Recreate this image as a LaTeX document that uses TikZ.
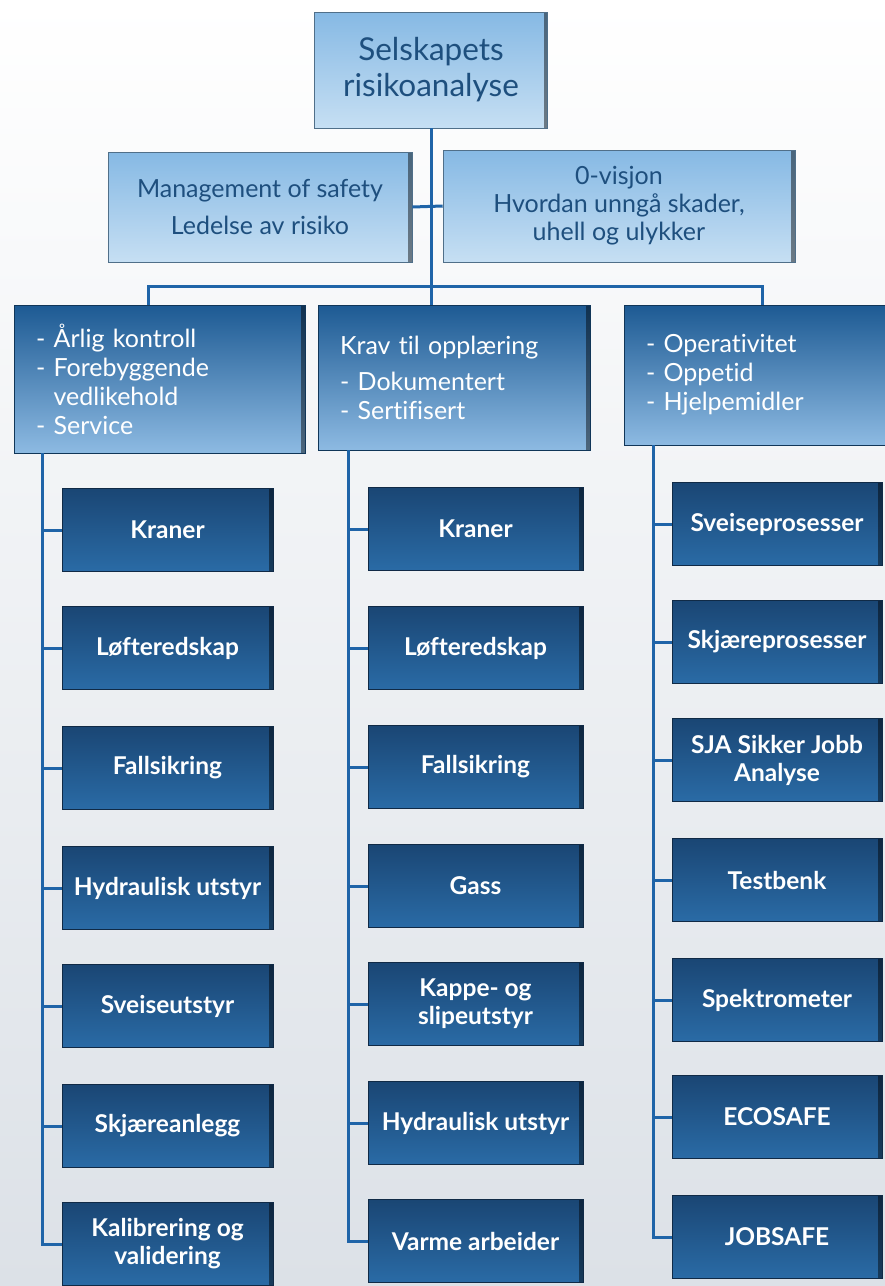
\documentclass[tikz,border=0pt]{standalone}
\usepackage{fontspec}
\setmainfont{Lato}[Ligatures=NoCommon]
\usetikzlibrary{positioning}

\definecolor{linkblue}{HTML}{1F64A8}
\definecolor{lighttop}{HTML}{86B9E4}
\definecolor{lightbot}{HTML}{C6DFF3}
\definecolor{lighttext}{HTML}{1E4F7E}
\definecolor{headtop}{HTML}{1D5A93}
\definecolor{headbot}{HTML}{8DBAE2}
\definecolor{itemtop}{HTML}{1A4674}
\definecolor{itembot}{HTML}{2A6BA6}
\definecolor{seagray}{HTML}{DCE1E7}

\tikzset{
  bevel/.style={path picture={\fill[black,opacity=.45] ([xshift=-4pt]path picture bounding box.north east) rectangle (path picture bounding box.south east);}},
  lightbox/.style={bevel, draw=lighttop!60!black, line width=.6pt, top color=lighttop, bottom color=lightbot,
    text=lighttext, align=center, font=\fontsize{25}{28}\selectfont},
  headbox/.style={bevel, draw=headtop!60!black, line width=.6pt, top color=headtop, bottom color=headbot,
    text=white, align=left, inner xsep=22pt, font=\fontsize{25}{29}\selectfont},
  itembox/.style={bevel, draw=itemtop!60!black, line width=.6pt, top color=itemtop, bottom color=itembot,
    text=white, align=center, minimum height=83pt, font=\fontsize{24.5}{28}\selectfont\bfseries},
  link/.style={draw=linkblue, line width=3pt}
}

\begin{document}
\begin{tikzpicture}[x=1pt,y=-1pt]
  % background
  \useasboundingbox (0,0) rectangle (885,1286);
  \shade[top color=white, middle color=white, bottom color=seagray] (0,0) rectangle (885,1286);

  % top part
  \node[lightbox, minimum width=233pt, minimum height=116pt, font=\fontsize{31.5}{36}\selectfont] (top) at (431,70) {Selskapets\\risikoanalyse};
  \node[lightbox, minimum width=304pt, minimum height=110pt] (mgmt) at (260,207) {Management of safety\\[9pt]Ledelse av risiko};
  \node[lightbox, minimum width=352pt, minimum height=112pt] (vision) at (619,206) {0-visjon\\Hvordan unngå skader,\\uhell og ulykker};

  % column heads
  \node[headbox, minimum width=291pt, minimum height=148pt, text width=247pt] (lhead) at (159.5,379) {- Årlig kontroll\\- Forebyggende\\\phantom{- }vedlikehold\\- Service};
  \node[headbox, minimum width=272pt, minimum height=145pt, text width=228pt] (mhead) at (454,377.5) {Krav til opplæring\\[7pt]- Dokumentert\\- Sertifisert};
  \node[headbox, minimum width=271pt, minimum height=140pt, text width=227pt] (rhead) at (759.5,375) {- Operativitet\\- Oppetid\\- Hjelpemidler};

  % items
  \foreach \y/\t [count=\i] in {530/Kraner, 648/Løfteredskap, 768/Fallsikring, 888/Hydraulisk utstyr,
      1006/Sveiseutstyr, 1126/Skjæreanlegg, 1244/{Kalibrering og\\validering}}
    \node[itembox, minimum width=211pt] (l\i) at (167.5,\y) {\t};
  \foreach \y/\t [count=\i] in {529/Kraner, 648/Løfteredskap, 767/Fallsikring, 886/Gass,
      1004/{Kappe- og\\slipeutstyr}, 1123/Hydraulisk utstyr, 1241/Varme arbeider}
    \node[itembox, minimum width=215pt] (m\i) at (475.5,\y) {\t};
  \foreach \y/\t [count=\i] in {524/Sveiseprosesser, 642/Skjæreprosesser, 760/{SJA Sikker Jobb\\Analyse}, 880/Testbenk,
      1000/Spektrometer, 1117/ECOSAFE, 1237/JOBSAFE}
    \node[itembox, minimum width=210pt] (r\i) at (777,\y) {\t};

  % connectors
  \coordinate (bar) at (431,286);
  \coordinate (lbar) at (148,286);
  \coordinate (rbar) at (762,286);
  \draw[link] (top) -- (bar);
  \draw[link] (mgmt.east) -- (vision.west);
  \draw[link] (lhead.north -| lbar) -- (lbar) -- (rbar) -- (rhead.north -| rbar);
  \draw[link] (bar) -- (mhead.north -| bar);

  \coordinate (lsp) at (42,0);
  \coordinate (msp) at (348,0);
  \coordinate (rsp) at (653,0);
  \draw[link] (lhead.south -| lsp) -- (l7.west -| lsp) -- (l7.west);
  \draw[link] (mhead.south -| msp) -- (m7.west -| msp) -- (m7.west);
  \draw[link] (rhead.south -| rsp) -- (r7.west -| rsp) -- (r7.west);
  \foreach \i in {1,...,6} {
    \draw[link] (l\i.west -| lsp) -- (l\i.west);
    \draw[link] (m\i.west -| msp) -- (m\i.west);
    \draw[link] (r\i.west -| rsp) -- (r\i.west);
  }
\end{tikzpicture}
\end{document}
